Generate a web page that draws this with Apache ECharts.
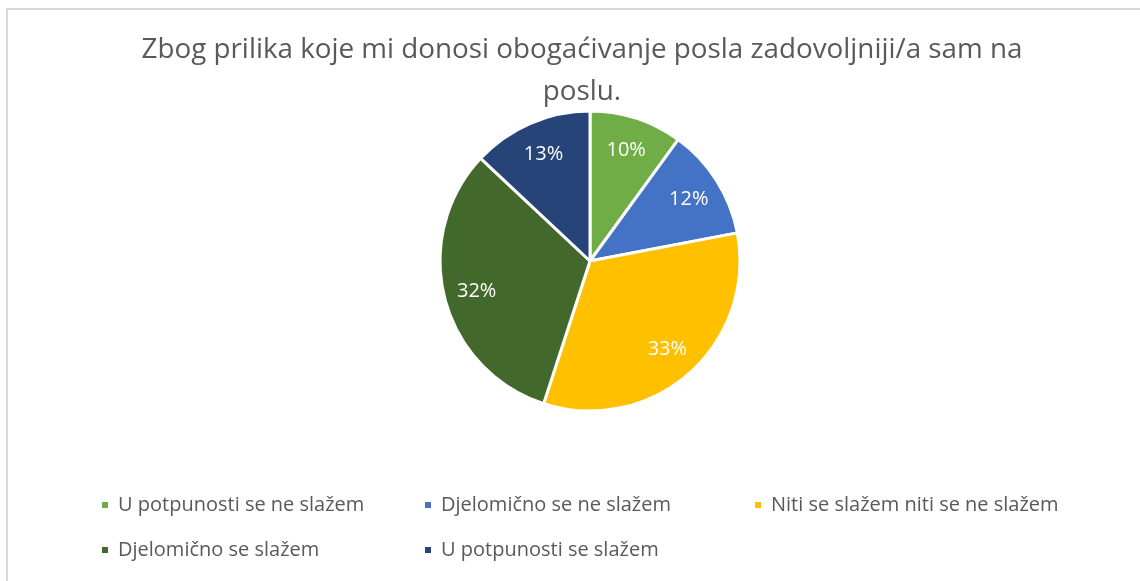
<!DOCTYPE html>
<html>
<head>
<meta charset="utf-8">
<script src="https://cdn.jsdelivr.net/npm/echarts@6/dist/echarts.min.js"></script>
<style>
  html, body { margin: 0; padding: 0; background: #fff; }
  #chart { width: 1140px; height: 581px; }
</style>
</head>
<body>
<div id="chart"></div>
<script>
// odgovori i udjeli (%)
const categories = [
  "U potpunosti se ne slažem",
  "Djelomično se ne slažem",
  "Niti se slažem niti se ne slažem",
  "Djelomično se slažem",
  "U potpunosti se slažem"
];
const shares = [10, 12, 33, 32, 13];
const sliceColors = ["#70AD47", "#4472C4", "#FFC000", "#43682B", "#264478"];
const titleText = "Zbog prilika koje mi donosi obogaćivanje posla zadovoljniji/a sam na\nposlu.";

const fontFam = "'Open Sans', 'Noto Sans', sans-serif";
const myChart = echarts.init(document.getElementById("chart"));

const pieData = categories.map((name, i) => ({
  name: name,
  value: shares[i],
  itemStyle: { color: sliceColors[i] }
}));

// legenda - svaki unos posebno, kao u originalu
const legendPos = [
  [100, 495], [423, 495], [753, 495],
  [100, 540], [423, 540]
];
const legends = categories.map((name, i) => ({
  data: [name],
  left: legendPos[i][0],
  top: legendPos[i][1],
  padding: 0,
  orient: "horizontal",
  itemWidth: 8,
  itemHeight: 8,
  itemGap: 0,
  icon: "rect",
  selectedMode: false,
  textStyle: { color: "#595959", fontSize: 20, fontFamily: fontFam, padding: [0, 0, 0, 4] }
}));

let option = {
  backgroundColor: "#fff",
  animation: false,
  title: {
    text: titleText,
    left: 577,
    top: 24,
    textAlign: "center",
    textStyle: {
      color: "#595959",
      fontSize: 27.8,
      fontWeight: "normal",
      fontFamily: fontFam,
      lineHeight: 42
    }
  },
  legend: legends,
  graphic: [{
    type: "rect",
    shape: { x: 7, y: 9, width: 1200, height: 700 },
    style: { fill: "none", stroke: "#d9d9d9", lineWidth: 2 },
    silent: true,
    z: -1
  }],
  series: [{
    name: "main",
    type: "pie",
    center: [590, 261],
    radius: [0, 150],
    startAngle: 90,
    clockwise: true,
    label: { show: false },
    labelLine: { show: false },
    itemStyle: { borderColor: "#fff", borderWidth: 3 },
    emphasis: { disabled: true },
    data: pieData
  }, {
    // prozirni prsten samo za položaj postotaka
    name: "labels",
    type: "pie",
    center: [590, 262],
    radius: [78, 150],
    startAngle: 90,
    clockwise: true,
    silent: true,
    itemStyle: { color: "transparent", borderWidth: 0 },
    label: {
      show: true,
      position: "inside",
      formatter: "{c}%",
      color: "#fff",
      fontSize: 20,
      fontFamily: fontFam
    },
    labelLine: { show: false },
    emphasis: { disabled: true },
    data: categories.map((name, i) => ({ name: name, value: shares[i] }))
  }]
};
myChart.setOption(option);
</script>
</body>
</html>
